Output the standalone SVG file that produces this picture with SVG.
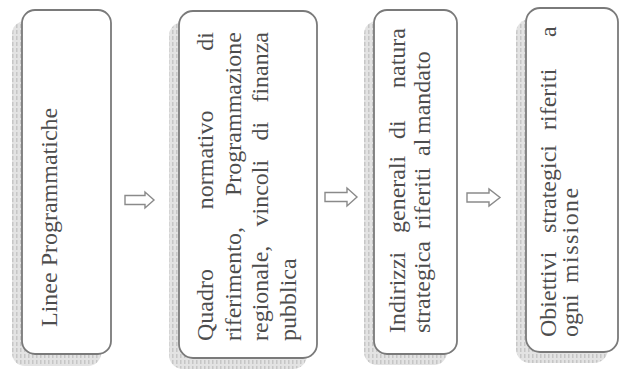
<svg xmlns="http://www.w3.org/2000/svg" width="622" height="371" viewBox="0 0 622 371">
<style>
.shadow{fill:url(#hatch);stroke:none}
.box{fill:#ffffff;stroke:#7a7a7a;stroke-width:1.8}
.txt{font-family:"Liberation Serif","Times New Roman",serif;font-size:24px;fill:#4d4d4d}
.arrow{fill:#ffffff;stroke:#8a8a8a;stroke-width:1.4;stroke-linejoin:miter}
</style>
<defs>
<pattern id="hatch" width="4" height="6" patternUnits="userSpaceOnUse">
<rect width="4" height="6" fill="#e3e3e3"/>
<rect x="0" y="0" width="1.5" height="4" fill="#c6c6c6"/>
</pattern>
</defs>
<rect width="622" height="371" fill="#ffffff"/>

<g id="node-linee">
<rect class="shadow" x="12" y="21" width="89" height="345" rx="13"/>
<rect class="box" x="22" y="10" width="89" height="344" rx="13"/>
<g transform="rotate(-90)">
<text class="txt" x="-327" y="57">Linee Programmatiche</text>
</g>
</g>

<g id="node-quadro">
<rect class="shadow" x="169" y="22" width="138" height="347" rx="14"/>
<rect class="box" x="179" y="11" width="138" height="347" rx="14"/>
<g transform="rotate(-90)">
<text class="txt" y="213"><tspan x="-341">Quadro</tspan><tspan x="-209.2">normativo</tspan><tspan x="-50.7">di</tspan></text>
<text class="txt" y="240.5"><tspan x="-341">riferimento,</tspan><tspan x="-196">Programmazione</tspan></text>
<text class="txt" y="268"><tspan x="-341">regionale,</tspan><tspan x="-226.5">vincoli</tspan><tspan x="-140.6">di</tspan><tspan x="-102.6">finanza</tspan></text>
<text class="txt" x="-341" y="295.5">pubblica</text>
</g>
</g>

<g id="node-indirizzi">
<rect class="shadow" x="364" y="21" width="83" height="344" rx="13"/>
<rect class="box" x="374" y="10" width="83" height="344" rx="13"/>
<g transform="rotate(-90)">
<text class="txt" y="405"><tspan x="-333">Indirizzi</tspan><tspan x="-233">generali</tspan><tspan x="-139">di</tspan><tspan x="-88">natura</tspan></text>
<text class="txt" y="430"><tspan x="-333">strategica</tspan><tspan x="-229">riferiti</tspan><tspan x="-156">al</tspan><tspan x="-134">mandato</tspan></text>
</g>
</g>

<g id="node-obiettivi">
<rect class="shadow" x="516" y="19" width="92" height="344" rx="14"/>
<rect class="box" x="526" y="8" width="92" height="344" rx="14"/>
<g transform="rotate(-90)">
<text class="txt" y="556"><tspan x="-337">Obiettivi</tspan><tspan x="-233">strategici</tspan><tspan x="-130">riferiti</tspan><tspan x="-37">a</tspan></text>
<text class="txt" y="578"><tspan x="-337">ogni</tspan><tspan x="-283" letter-spacing="1.4">missione</tspan></text>
</g>
</g>

<g id="connectors">
<polygon class="arrow" points="125,195.5 145,195.5 145,192 154,200 145,208 145,204.5 125,204.5"/>
<polygon class="arrow" points="325,192.5 347,192.5 347,188 357,197 347,206 347,201.5 325,201.5"/>
<polygon class="arrow" points="467,193 489,193 489,189 500,197.5 489,206 489,202 467,202"/>
</g>
</svg>
